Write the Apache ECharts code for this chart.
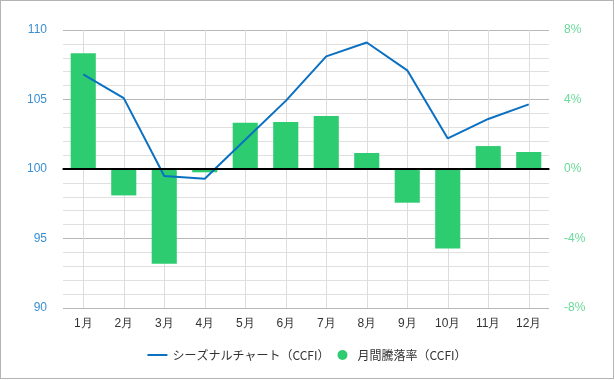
<!DOCTYPE html>
<html>
<head>
<meta charset="utf-8">
<script src="https://cdn.jsdelivr.net/npm/echarts@6/dist/echarts.min.js"></script>
<style>
html,body{margin:0;padding:0;background:#fff;}
#c{width:614px;height:379px;box-sizing:border-box;border:1px solid #b4b4b4;}
</style>
</head>
<body>
<div id="c"></div>
<script>
const categories = ['1月','2月','3月','4月','5月','6月','7月','8月','9月','10月','11月','12月'];
const seasonalValues = [106.8, 105.1, 99.5, 99.3, 102.1, 104.9, 108.1, 109.1, 107.1, 102.2, 103.6, 104.65];
const monthlyChange = [6.66, -1.52, -5.45, -0.19, 2.66, 2.7, 3.05, 0.92, -1.94, -4.57, 1.32, 0.98];
const seriesNames = ['シーズナルチャート（CCFI）', '月間騰落率（CCFI）'];

const chart = echarts.init(document.getElementById('c'), null, {renderer: 'canvas'});
chart.setOption({
  animation: false,
  grid: {left: 62, right: 64, top: 29, bottom: 70},
  legend: {
    bottom: 12,
    left: 'center',
    itemGap: 8,
    itemWidth: 20,
    itemHeight: 10,
    textStyle: {color: '#333', fontSize: 12, fontFamily: 'Noto Sans CJK JP'},
    data: [
      {name: seriesNames[0], icon: 'path://M0,4 L20,4 L20,6 L0,6 Z'},
      {name: seriesNames[1], icon: 'circle'}
    ]
  },
  xAxis: {
    type: 'category',
    data: categories,
    axisLine: {lineStyle: {color: '#000', width: 1.5}},
    axisTick: {show: false},
    axisLabel: {color: '#333', fontSize: 12, margin: 10},
    splitLine: {show: true, alignWithLabel: true, lineStyle: {color: '#dcdcdc', width: 1}}
  },
  yAxis: [
    {
      type: 'value', min: 90, max: 110, interval: 5,
      axisLine: {show: false}, axisTick: {show: false},
      axisLabel: {color: '#3a8fd0', fontSize: 12, margin: 16},
      splitLine: {lineStyle: {color: '#b8b8b8', width: 1}},
      minorTick: {show: false, splitNumber: 5},
      minorSplitLine: {show: true, lineStyle: {color: '#e0e0e0', width: 1}}
    },
    {
      type: 'value', min: -8, max: 8, interval: 4,
      axisLine: {show: false}, axisTick: {show: false},
      axisLabel: {color: '#6ad99a', fontSize: 12, margin: 15, formatter: '{value}%'},
      splitLine: {show: false}
    }
  ],
  series: [
    {
      name: seriesNames[1],
      type: 'bar',
      yAxisIndex: 1,
      data: monthlyChange,
      barWidth: '62%',
      itemStyle: {color: '#2ecc71'},
      markLine: {
        silent: true, symbol: 'none', label: {show: false},
        lineStyle: {color: '#000', width: 2, type: 'solid'},
        data: [{yAxis: 0}]
      },
      z: 2
    },
    {
      name: seriesNames[0],
      type: 'line',
      yAxisIndex: 0,
      data: seasonalValues,
      symbol: 'none',
      lineStyle: {color: '#0a70c2', width: 2},
      itemStyle: {color: '#0a70c2'},
      z: 3
    }
  ]
});
</script>
</body>
</html>
